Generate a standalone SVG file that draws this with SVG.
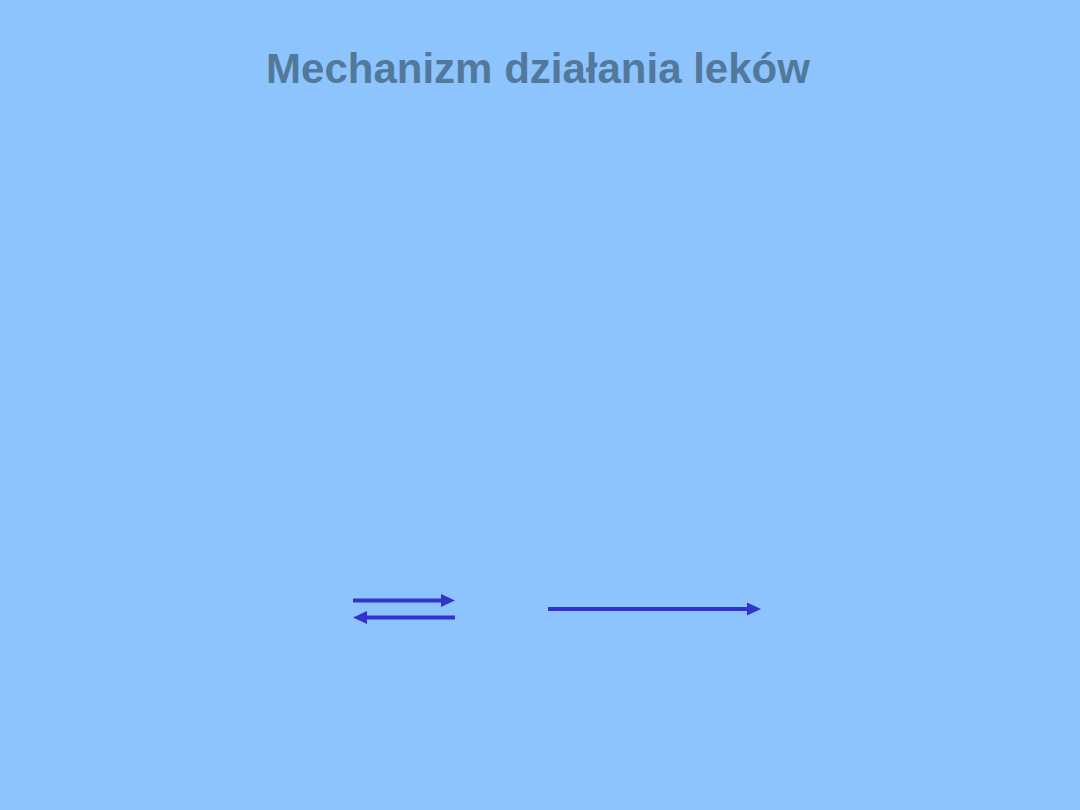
<svg xmlns="http://www.w3.org/2000/svg" width="1080" height="810" viewBox="0 0 1080 810">
<defs>
<style>
.title{font-family:"Liberation Sans",Arial,sans-serif;font-weight:bold;font-size:42px;fill:#52789C;}
.arr{stroke:#3333CC;stroke-width:4;fill:none;}
</style>
<marker id="ah" markerUnits="userSpaceOnUse" viewBox="0 0 14 13" markerWidth="14" markerHeight="13" refX="4" refY="6.5" orient="auto">
<path d="M0,0 L14,6.5 L0,13 Z" fill="#3333CC"/>
</marker>
</defs>
<rect width="1080" height="810" fill="#8DC4FE"/>
<g id="title"><text class="title" x="538" y="83" text-anchor="middle">Mechanizm działania leków</text></g>
<g id="connectors">
<line class="arr" x1="353" y1="600.5" x2="445" y2="600.5" marker-end="url(#ah)"/>
<line class="arr" x1="455" y1="617.5" x2="363" y2="617.5" marker-end="url(#ah)"/>
<line class="arr" x1="548" y1="609" x2="751" y2="609" marker-end="url(#ah)"/>
</g>
</svg>
